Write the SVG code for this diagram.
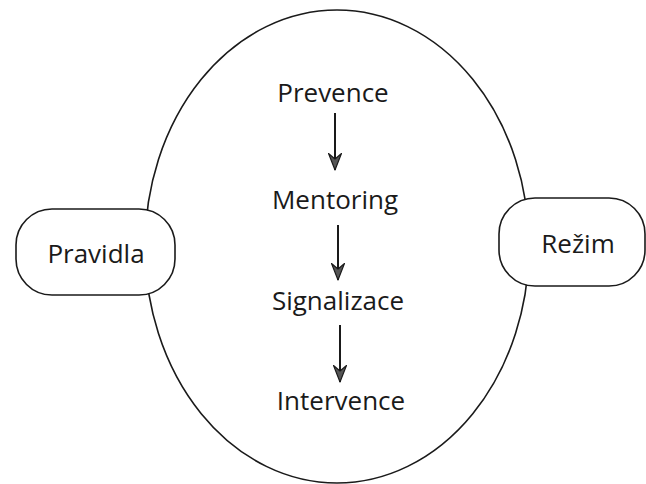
<svg xmlns="http://www.w3.org/2000/svg" width="646" height="484" viewBox="0 0 646 484">
<style>
  .shape { fill: #ffffff; stroke: #1a1a1a; stroke-width: 1.6; }
  .label { font-family: "Open Sans", "Noto Sans", "Liberation Sans", sans-serif; font-size: 26px; fill: #1a1a1a; text-anchor: middle; }
  .conn { stroke: #1a1a1a; stroke-width: 2; fill: none; }
</style>
<defs>
  <marker id="arr" viewBox="0 0 18 14" refX="17" refY="7" markerWidth="18" markerHeight="14" markerUnits="userSpaceOnUse" orient="auto">
    <path d="M0.5,0.5 L17,7 L0.5,13.5 L6,7 Z" fill="#555555" stroke="#1a1a1a" stroke-width="1.2" stroke-linejoin="round"/>
  </marker>
</defs>
<rect width="646" height="484" fill="#ffffff"/>
<g id="circle">
  <ellipse class="shape" cx="337" cy="246.5" rx="192" ry="236.5"/>
</g>
<g id="pravidla">
  <rect class="shape" x="16" y="209" width="159" height="86" rx="36" ry="36"/>
  <text class="label" x="96" y="263">Pravidla</text>
</g>
<g id="rezim">
  <rect class="shape" x="499" y="198" width="146" height="88" rx="36" ry="36"/>
  <text class="label" x="578" y="253">Režim</text>
</g>
<g id="prevence">
  <text class="label" x="333" y="102">Prevence</text>
</g>
<g id="mentoring">
  <text class="label" x="335" y="209">Mentoring</text>
</g>
<g id="signalizace">
  <text class="label" x="338" y="310">Signalizace</text>
</g>
<g id="intervence">
  <text class="label" x="341" y="410">Intervence</text>
</g>
<g id="connectors">
  <path class="conn" d="M335,113 L335,170" marker-end="url(#arr)"/>
  <path class="conn" d="M338,225 L338,280" marker-end="url(#arr)"/>
  <path class="conn" d="M340,325 L340,382" marker-end="url(#arr)"/>
</g>
</svg>
